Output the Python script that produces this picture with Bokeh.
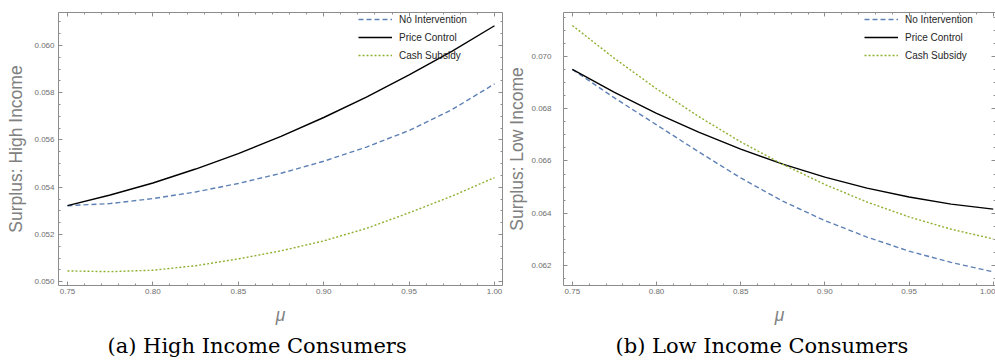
from bokeh.plotting import figure
from bokeh.models import (Range1d, LinearAxis, FixedTicker, PrintfTickFormatter,
                          Legend, LegendItem, Title, ColumnDataSource)
from bokeh.layouts import row
from bokeh.embed import file_html
from bokeh.resources import INLINE

# ---- data ----
mu = [0.75, 0.775, 0.80, 0.825, 0.85, 0.875, 0.90, 0.925, 0.95, 0.975, 1.00]

hi_none = [0.05322, 0.05331, 0.05352, 0.05380, 0.05416, 0.05459, 0.05510, 0.05570, 0.05640, 0.05728, 0.05837]
hi_price = [0.05322, 0.05367, 0.05418, 0.05477, 0.05542, 0.05615, 0.05695, 0.05781, 0.05875, 0.05975, 0.06083]
hi_cash = [0.05046, 0.05043, 0.05049, 0.05068, 0.05097, 0.05131, 0.05173, 0.05226, 0.05292, 0.05362, 0.05441]

lo_none = [0.06950, 0.06841, 0.06738, 0.06635, 0.06535, 0.06446, 0.06372, 0.06309, 0.06255, 0.06212, 0.06176]
lo_price = [0.06950, 0.06862, 0.06782, 0.06710, 0.06645, 0.06588, 0.06538, 0.06496, 0.06462, 0.06435, 0.06416]
lo_cash = [0.07118, 0.06992, 0.06876, 0.06770, 0.06673, 0.06587, 0.06510, 0.06443, 0.06386, 0.06339, 0.06302]

series_names = ["No Intervention", "Price Control", "Cash Subsidy"]

x_ticks = [0.75, 0.80, 0.85, 0.90, 0.95, 1.00]
x_minor = [0.74, 0.75, 0.76, 0.77, 0.78, 0.79, 0.80, 0.81, 0.82, 0.83, 0.84, 0.85, 0.86, 0.87,
           0.88, 0.89, 0.90, 0.91, 0.92, 0.93, 0.94, 0.95, 0.96, 0.97, 0.98, 0.99, 1.00]
hi_y_ticks = [0.050, 0.052, 0.054, 0.056, 0.058, 0.060]
hi_y_minor = [0.0495, 0.0500, 0.0505, 0.0510, 0.0515, 0.0520, 0.0525, 0.0530, 0.0535, 0.0540,
              0.0545, 0.0550, 0.0555, 0.0560, 0.0565, 0.0570, 0.0575, 0.0580, 0.0585, 0.0590,
              0.0595, 0.0600, 0.0605, 0.0610]
lo_y_ticks = [0.062, 0.064, 0.066, 0.068, 0.070]
lo_y_minor = [0.0615, 0.0620, 0.0625, 0.0630, 0.0635, 0.0640, 0.0645, 0.0650, 0.0655, 0.0660,
              0.0665, 0.0670, 0.0675, 0.0680, 0.0685, 0.0690, 0.0695, 0.0700, 0.0705, 0.0710,
              0.0715]

# ---- styles ----
BLUE = "#5E81B5"
GREEN = "#8FB032"
BLACK = "#000000"
FRAME = "#8c8c8c"
TICKLAB = "#6e6e6e"
AXLAB = "#808080"
SANS = "Liberation Sans"
SERIF = "DejaVu Serif"
H = 362


def styled_axis(ticks, minor, fmt, show, standoff=4, label=None, label_style="normal", label_standoff=0):
    ax = LinearAxis(ticker=FixedTicker(ticks=ticks, minor_ticks=minor),
                    formatter=PrintfTickFormatter(format=fmt))
    ax.axis_line_color = FRAME
    ax.axis_line_width = 1
    ax.major_tick_line_color = FRAME
    ax.minor_tick_line_color = FRAME
    ax.major_tick_in = 4
    ax.major_tick_out = 0
    ax.minor_tick_in = 2
    ax.minor_tick_out = 0
    ax.major_label_text_font = SANS
    if show:
        ax.major_label_text_color = TICKLAB
        ax.major_label_text_font_size = "8px"
        ax.major_label_standoff = standoff
    else:
        ax.major_label_text_color = None
        ax.major_label_text_font_size = "0px"
        ax.major_label_standoff = 0
    if label is not None:
        ax.axis_label = label
        ax.axis_label_text_font = SANS
        ax.axis_label_text_font_size = "17.5px"
        ax.axis_label_text_font_style = label_style
        ax.axis_label_text_color = AXLAB
        ax.axis_label_standoff = label_standoff
    return ax


def panel(width, bl, br, xr, yr, yticks, yminor, ylabel, ys, yls, caption, cap_off, legend_x,
          v_none, v_price, v_cash):
    p = figure(width=width, height=H, x_range=Range1d(*xr), y_range=Range1d(*yr),
               x_axis_location=None, y_axis_location=None, tools="",
               toolbar_location=None, output_backend="svg",
               min_border_left=bl, min_border_right=br, min_border_top=12, min_border_bottom=76)
    p.outline_line_color = None
    p.background_fill_color = "white"
    p.border_fill_color = "white"
    p.grid.grid_line_color = None

    p.add_layout(styled_axis(x_ticks, x_minor, "%.2f", True, standoff=3, label="μ",
                             label_style="italic", label_standoff=8), "below")
    p.add_layout(styled_axis(x_ticks, x_minor, "%.2f", False), "above")
    p.add_layout(styled_axis(yticks, yminor, "%.3f", True, standoff=ys, label=ylabel,
                             label_standoff=yls), "left")
    p.add_layout(styled_axis(yticks, yminor, "%.3f", False), "right")

    src = ColumnDataSource(dict(mu=mu, none=v_none, price=v_price, cash=v_cash))
    r1 = p.line("mu", "none", source=src, line_color=BLUE, line_width=1.4, line_dash="5 3")
    r2 = p.line("mu", "price", source=src, line_color=BLACK, line_width=1.4)
    r3 = p.line("mu", "cash", source=src, line_color=GREEN, line_width=1.4, line_dash="2 2")

    leg = Legend(items=[LegendItem(label=series_names[0], renderers=[r1]),
                        LegendItem(label=series_names[1], renderers=[r2]),
                        LegendItem(label=series_names[2], renderers=[r3])],
                 location=(legend_x, 223), orientation="vertical")
    leg.border_line_color = None
    leg.background_fill_alpha = 0
    leg.padding = 0
    leg.margin = 0
    leg.spacing = 4
    leg.glyph_width = 34
    leg.glyph_height = 14
    leg.label_height = 14
    leg.label_standoff = 7
    leg.label_text_font = SANS
    leg.label_text_font_size = "10px"
    leg.label_text_color = "#262626"
    p.add_layout(leg, "center")

    cap = Title(text=caption, align="left", offset=cap_off, standoff=9,
                text_font=SERIF, text_font_size="21px", text_font_style="normal",
                text_color="black")
    p.add_layout(cap, "below")
    return p


p1 = panel(504, 58, 2, (0.74473, 1.00468), (0.049844, 0.061391), hi_y_ticks, hi_y_minor,
           "Surplus: High Income", 4, 5, "(a) High Income Consumers", 49, 300,
           hi_none, hi_price, hi_cash)
p2 = panel(491, 53, 0, (0.74473, 1.00135), (0.061238, 0.071676), lo_y_ticks, lo_y_minor,
           "Surplus: Low Income", 12, 1, "(b) Low Income Consumers", 52, 301,
           lo_none, lo_price, lo_cash)

layout = row(p1, p2)
open("out.html", "w").write(file_html(layout, INLINE))
